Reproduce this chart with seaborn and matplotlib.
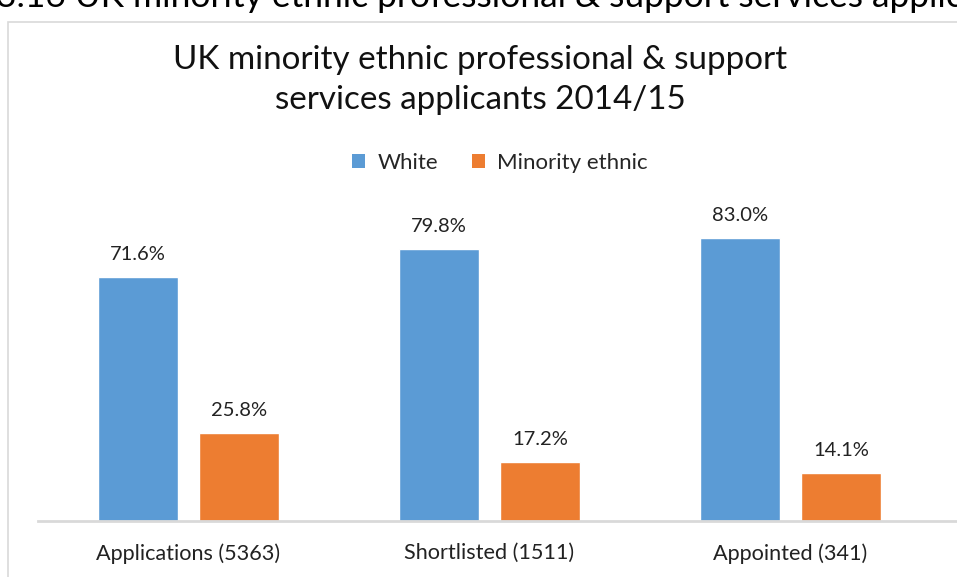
import matplotlib
matplotlib.use("Agg")
import matplotlib.pyplot as plt
from matplotlib.patches import Patch, Rectangle
import pandas as pd
import seaborn as sns

# values
stages = ["Applications (5363)", "Shortlisted (1511)", "Appointed (341)"]
groups = ["White", "Minority ethnic"]
white = [71.6, 79.8, 83.0]
minority = [25.8, 17.2, 14.1]
colors = ["#5B9BD5", "#ED7D31"]

df = pd.DataFrame({
    "stage": stages * 2,
    "group": [groups[0]] * 3 + [groups[1]] * 3,
    "pct": white + minority,
})

sns.set_theme(style="white")
plt.rcParams["font.family"] = ["Lato", "DejaVu Sans"]

W, H = 957, 577
fig = plt.figure(figsize=(W / 100, H / 100), dpi=100)

# caption of the page above the chart, cut off at the top
fig.text(-0.004, 1 - 7 / H, "3.16 UK minority ethnic professional & support services applicants 2014/15",
         fontsize=25.5, color="black", va="baseline", ha="left")

# chart frame
fig.patches.append(Rectangle((8 / W, -0.1), 1.2, 1 - 22 / H + 0.1, transform=fig.transFigure,
                             fill=False, edgecolor="#d9d9d9", linewidth=1.2))

ax = fig.add_axes([38 / W, (H - 521) / H, (W - 38) / W, (521 - 190) / H])
sns.barplot(data=df, x="stage", y="pct", hue="group", hue_order=groups, palette=colors,
            width=0.67, gap=0.21, saturation=1, legend=False, ax=ax)

for cont in ax.containers:
    ax.bar_label(cont, labels=[f"{v:.1f}%" for v in cont.datavalues], padding=10, fontsize=14.5, color="#222222")

ax.set_xlim(-0.5, -0.5 + (W - 38) / 301)
ax.set_ylim(0, (521 - 190) / 3.41)
ax.set_xlabel("")
ax.set_ylabel("")
ax.set_yticks([])
ax.tick_params(axis="x", length=0, pad=16, labelsize=15.6, labelcolor="#222222")
for s in ["top", "left", "right"]:
    ax.spines[s].set_visible(False)
ax.spines["bottom"].set_color("#d9d9d9")
ax.spines["bottom"].set_linewidth(2)

fig.text(480 / W, 1 - 60 / H, "UK minority ethnic professional & support", ha="center", va="center",
         fontsize=23.9, color="#111111")
fig.text(480 / W, 1 - 100 / H, "services applicants 2014/15", ha="center", va="center",
         fontsize=23.9, color="#111111")

handles = [Patch(facecolor=c, edgecolor="none", label=g) for c, g in zip(colors, groups)]
fig.legend(handles=handles, loc="center", bbox_to_anchor=(500 / W, 1 - 163 / H), ncol=2, frameon=False,
           fontsize=16, handlelength=0.6, handleheight=0.6, handletextpad=0.55, columnspacing=1.5)

fig.savefig("out.png", dpi=100)
